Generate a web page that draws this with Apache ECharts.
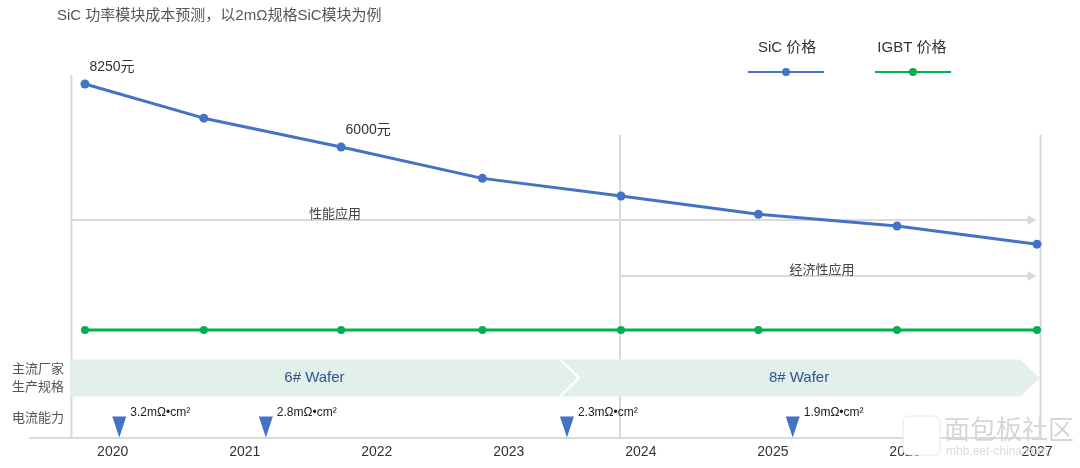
<!DOCTYPE html>
<html>
<head>
<meta charset="utf-8">
<title>SiC 功率模块成本预测</title>
<script src="https://cdn.jsdelivr.net/npm/echarts@6/dist/echarts.min.js"></script>
<style>
  html, body { margin: 0; padding: 0; background: #fff; }
  #chart { width: 1080px; height: 468px; }
</style>
</head>
<body>
<div id="chart"></div>
<script>
// 年份刻度
const years = [2020, 2021, 2022, 2023, 2024, 2025, 2026, 2027];
// 每个价格节点在时间轴上的位置（年）
const pointAt = [2019.79, 2020.69, 2021.73, 2022.80, 2023.85, 2024.89, 2025.94, 2027.0];
// SiC 模块价格（元）
const sicPrice = [8250, 7030, 6000, 4880, 4250, 3600, 3180, 2530];
const sicNote = ["8250元", "", "6000元", "", "", "", "", ""];
// IGBT 模块价格（元，基本持平）
const igbtPrice = [1000, 1000, 1000, 1000, 1000, 1000, 1000, 1000];
// 主流厂家生产规格
const waferNames = ["6# Wafer", "8# Wafer"];
const waferStart = [2019.68, 2023.52];
const waferEnd = [2023.52, 2027.02];
// 电流能力
const capNames = ["3.2mΩ•cm²", "2.8mΩ•cm²", "2.3mΩ•cm²", "1.9mΩ•cm²"];
const capAt = [2020.05, 2021.16, 2023.44, 2025.15];
// 应用阶段
const phaseNames = ["性能应用", "经济性应用"];
const phaseStart = [2019.68, 2023.85];
const phaseEnd = [2027.02, 2027.02];
const rowNames = ["电流能力", "主流厂家\n生产规格"];

const FONT = '"Liberation Sans", "Noto Sans CJK SC", sans-serif';
const GREY = "#d9d9d9";

const chart = echarts.init(document.getElementById("chart"));

// 两个网格共用同一条时间轴
const xRange = { min: 2019.3737, max: 2027.0229 };

const option = {
  animation: false,
  textStyle: { fontFamily: FONT },
  title: {
    text: "SiC 功率模块成本预测，以2mΩ规格SiC模块为例",
    left: 52,
    top: 3,
    textStyle: { fontSize: 15, fontWeight: "normal", color: "#555", fontFamily: FONT },
  },
  legend: [
    {
      // 图例线条
      data: ["SiC 价格", "IGBT 价格"],
      left: 742,
      top: 62,
      itemWidth: 76,
      itemHeight: 10,
      itemGap: 49,
      formatter: () => "",
      selectedMode: false,
    },
    {
      // 图例文字（在线条上方）
      data: ["SiC 价格", "IGBT 价格"],
      left: 747,
      top: 35,
      itemWidth: 0,
      itemHeight: 0,
      itemGap: 55,
      selectedMode: false,
      textStyle: { fontSize: 15, color: "#333", fontFamily: FONT },
    },
  ],
  grid: [
    { left: 30, right: 40, top: 0, bottom: 0 },
    { left: 30, right: 40, top: 358, height: 80 },
  ],
  xAxis: [
    { type: "value", gridIndex: 0, ...xRange, show: false },
    {
      type: "value",
      gridIndex: 1,
      ...xRange,
      axisLine: { show: true, onZero: false, lineStyle: { color: GREY, width: 2 } },
      axisTick: { show: false },
      splitLine: { show: false },
      axisLabel: {
        customValues: years,
        formatter: (v) => String(v),
        fontSize: 14,
        color: "#333",
        margin: 7,
        fontFamily: FONT,
      },
    },
  ],
  yAxis: [
    // SiC 价格轴（隐藏）
    { type: "value", gridIndex: 0, min: -5464, max: 11250, show: false },
    // IGBT 价格轴（隐藏）
    { type: "value", gridIndex: 0, min: 0, max: 3390, show: false },
    // 底部两行
    {
      type: "category",
      gridIndex: 1,
      data: rowNames,
      axisLine: { show: false },
      axisTick: { show: false },
      axisLabel: {
        align: "left",
        margin: 18,
        fontSize: 13,
        lineHeight: 18,
        color: "#555",
        padding: [10, 0, 0, 0],
        fontFamily: FONT,
      },
    },
  ],
  series: [
    {
      name: "SiC 价格",
      type: "line",
      xAxisIndex: 0,
      yAxisIndex: 0,
      clip: false,
      symbol: "circle",
      symbolSize: 9,
      color: "#4472c4",
      lineStyle: { width: 3 },
      label: {
        position: "top",
        offset: [27, 0],
        fontSize: 14,
        color: "#333",
        fontFamily: FONT,
      },
      data: pointAt.map((x, i) => ({
        value: [x, sicPrice[i]],
        label: { show: sicNote[i] !== "", formatter: sicNote[i] },
      })),
    },
    {
      name: "IGBT 价格",
      type: "line",
      xAxisIndex: 0,
      yAxisIndex: 1,
      clip: false,
      symbol: "circle",
      symbolSize: 8,
      color: "#00b050",
      lineStyle: { width: 3 },
      data: pointAt.map((x, i) => [x, igbtPrice[i]]),
    },
    {
      // 晶圆规格色带
      name: "wafer",
      type: "custom",
      xAxisIndex: 1,
      yAxisIndex: 2,
      silent: true,
      data: waferNames.map((n, i) => [waferStart[i], waferEnd[i], n]),
      renderItem: (params, api) => {
        const i = params.dataIndex;
        const s = api.coord([api.value(0), 1]);
        const e = api.coord([api.value(1), 1]);
        const h = api.size([0, 1])[1] * 0.92;
        const mid = s[1];
        const top = mid - h / 2;
        const bot = mid + h / 2;
        const d = 19;
        let pts;
        if (i === 0) {
          pts = [[s[0], top], [e[0] - d, top], [e[0], mid], [e[0] - d, bot], [s[0], bot]];
        } else {
          pts = [[s[0] - d + 3, top], [e[0] - d, top], [e[0], mid], [e[0] - d, bot], [s[0] - d + 3, bot], [s[0] + 3, mid]];
        }
        return {
          type: "group",
          children: [
            { type: "polygon", shape: { points: pts }, style: { fill: "#e3efe9" } },
            {
              type: "text",
              style: {
                x: (s[0] + e[0]) / 2 - d / 2,
                y: mid,
                text: api.value(2),
                fill: "#2f5597",
                fontSize: 15,
                fontFamily: FONT,
                align: "center",
                verticalAlign: "middle",
              },
            },
          ],
        };
      },
    },
    {
      // 电流能力节点
      name: "cap",
      type: "scatter",
      xAxisIndex: 1,
      yAxisIndex: 2,
      symbol: "triangle",
      symbolRotate: 180,
      symbolSize: [14, 21],
      symbolOffset: [0, 9],
      itemStyle: { color: "#4472c4", opacity: 1 },
      silent: true,
      label: {
        show: true,
        position: "right",
        distance: 4,
        offset: [0, -14],
        fontSize: 12,
        color: "#222",
        fontFamily: FONT,
        formatter: (p) => capNames[p.dataIndex],
      },
      data: capAt.map((x) => [x, 0]),
    },
  ],
};

chart.setOption(option);

// 参考线、箭头与阶段文字
const px = (v) => chart.convertToPixel({ xAxisIndex: 0 }, v);
const vLine = (x, y1, y2) => ({
  type: "line",
  shape: { x1: x, y1: y1, x2: x, y2: y2 },
  style: { stroke: GREY, lineWidth: 2 },
  z: 0,
});
const arrow = (x1, x2, y) => [
  { type: "line", shape: { x1: x1, y1: y, x2: x2 - 8, y2: y }, style: { stroke: GREY, lineWidth: 2 }, z: 0 },
  { type: "polygon", shape: { points: [[x2 - 9, y - 5], [x2, y], [x2 - 9, y + 5]] }, style: { fill: GREY }, z: 0 },
];
const phaseY = [220, 276];
const phaseLabelX = [335, 822];

const graphics = [
  vLine(px(phaseStart[0]) + 1, 75, 438),
  vLine(px(phaseStart[1]) - 1, 135, 438),
  vLine(px(phaseEnd[0]) + 1, 135, 438),
];
phaseNames.forEach((n, i) => {
  graphics.push(...arrow(px(phaseStart[i]), px(phaseEnd[i]) - 3, phaseY[i]));
  graphics.push({
    type: "text",
    style: {
      x: phaseLabelX[i],
      y: phaseY[i] - 6,
      text: n,
      fill: "#444",
      fontSize: 13,
      fontFamily: FONT,
      align: "center",
      verticalAlign: "middle",
    },
    z: 5,
  });
});
// 水印
graphics.push(
  {
    type: "rect",
    shape: { x: 903, y: 416, width: 37, height: 39, r: 6 },
    style: { fill: "#fff", stroke: "#e6e6e6", lineWidth: 1 },
    z: 10,
  },
  {
    type: "text",
    style: { x: 944, y: 432, text: "面包板社区", fill: "#d6d6d6", fontSize: 26, fontFamily: FONT, verticalAlign: "middle" },
    z: 10,
  },
  {
    type: "text",
    style: { x: 946, y: 452, text: "mbb.eet-china.com", fill: "#dcdcdc", fontSize: 12, fontFamily: FONT, verticalAlign: "middle" },
    z: 10,
  }
);
chart.setOption({ graphic: graphics });
</script>
</body>
</html>
